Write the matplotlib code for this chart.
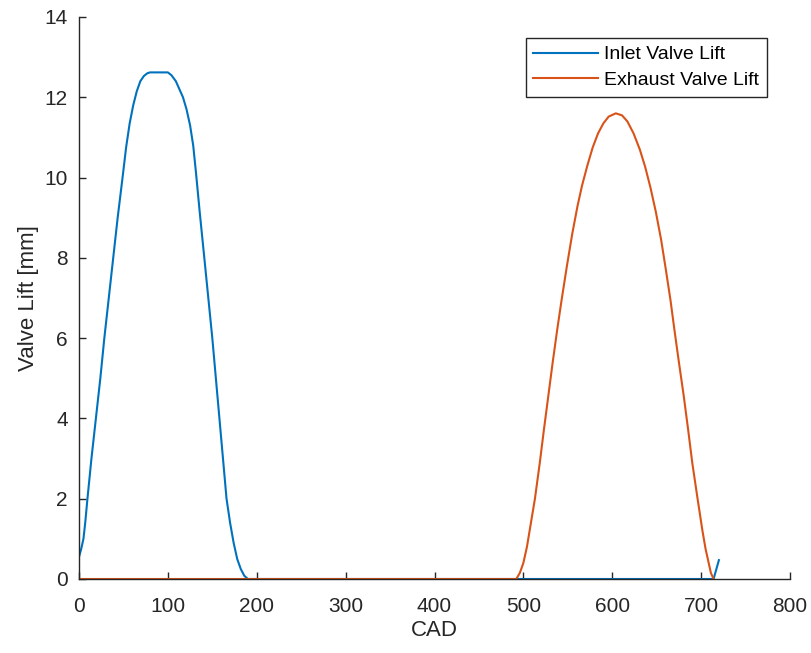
import numpy as np
import matplotlib
matplotlib.use("Agg")
import matplotlib.pyplot as plt

# values
inlet_cad = [0, 2.5, 5, 7, 9.5, 14, 19, 24, 28.5, 33.5, 38.5, 43.5, 49, 53, 57, 61, 65, 69,
             73, 77, 80, 100, 104, 109, 113, 117, 121, 125, 128.5, 131.5, 136, 141, 145.5,
             150, 154, 158, 162, 166, 170, 174, 178, 182, 186, 190, 714, 720]
inlet_lift = [0.55, 0.75, 1.0, 1.4, 2.0, 3.0, 4.0, 5.0, 6.0, 7.0, 8.0, 9.0, 10.0, 10.75,
              11.35, 11.8, 12.15, 12.4, 12.53, 12.6, 12.62, 12.62, 12.55, 12.4, 12.2, 12.0,
              11.7, 11.3, 10.8, 10.15, 9.1, 8.0, 7.0, 6.0, 5.0, 4.0, 3.0, 2.0, 1.4, 0.9,
              0.5, 0.25, 0.08, 0.0, 0.0, 0.47]

exhaust_cad = [0, 492, 496, 500, 504, 507, 513, 518.5, 523, 528, 533, 538, 543, 549, 555,
               561, 566, 572, 578, 584, 590, 596, 604, 611, 617, 624, 631, 637, 643, 649,
               655, 660, 665.5, 670, 675, 680.5, 685.5, 690, 696, 701.5, 705, 708.5, 711, 714]
exhaust_lift = [0.0, 0.0, 0.15, 0.4, 0.8, 1.2, 2.0, 2.9, 3.7, 4.55, 5.4, 6.2, 6.95, 7.8, 8.6,
                9.3, 9.8, 10.3, 10.75, 11.1, 11.35, 11.52, 11.6, 11.55, 11.4, 11.1, 10.7,
                10.27, 9.75, 9.15, 8.45, 7.75, 6.95, 6.2, 5.4, 4.55, 3.7, 2.9, 2.0, 1.2, 0.75,
                0.4, 0.15, 0.0]

x_ticks = np.arange(0, 900, 100)
y_ticks = np.arange(0, 16, 2)

plt.rcParams["font.family"] = ["Liberation Sans", "DejaVu Sans"]

fig = plt.figure(figsize=(8.11, 6.53), dpi=100)
ax = fig.add_axes([79 / 811, 74 / 653, 711 / 811, 562 / 653])

ax.plot(inlet_cad, inlet_lift, color="#0072BD", lw=1.5, label="Inlet Valve Lift")
ax.plot(exhaust_cad, exhaust_lift, color="#D95319", lw=1.5, label="Exhaust Valve Lift")

ax.set_xlim(0, 800)
ax.set_ylim(0, 14)
ax.set_xticks(x_ticks)
ax.set_yticks(y_ticks)

# matlab look: box off, ticks inside
for side in ["top", "right"]:
    ax.spines[side].set_visible(False)
for side in ["left", "bottom"]:
    ax.spines[side].set_color("#262626")
    ax.spines[side].set_linewidth(1.0)
ax.tick_params(direction="in", length=5, width=1, colors="#262626", labelsize=15)
ax.tick_params(axis="x", pad=13)
ax.tick_params(axis="y", pad=8)

ax.set_xlabel("CAD", fontsize=16, color="#262626", labelpad=3)
ax.set_ylabel("Valve Lift [mm]", fontsize=16, color="#262626", labelpad=4)

leg = ax.legend(loc="upper right", bbox_to_anchor=(0.9677, 0.9626), fontsize=14,
                handlelength=3.35, fancybox=False, framealpha=1, borderpad=0.4,
                labelspacing=0.4, handletextpad=0.3, borderaxespad=0)
leg.get_frame().set_edgecolor("#262626")
leg.get_frame().set_linewidth(1.0)

fig.savefig("out.png", dpi=100)
